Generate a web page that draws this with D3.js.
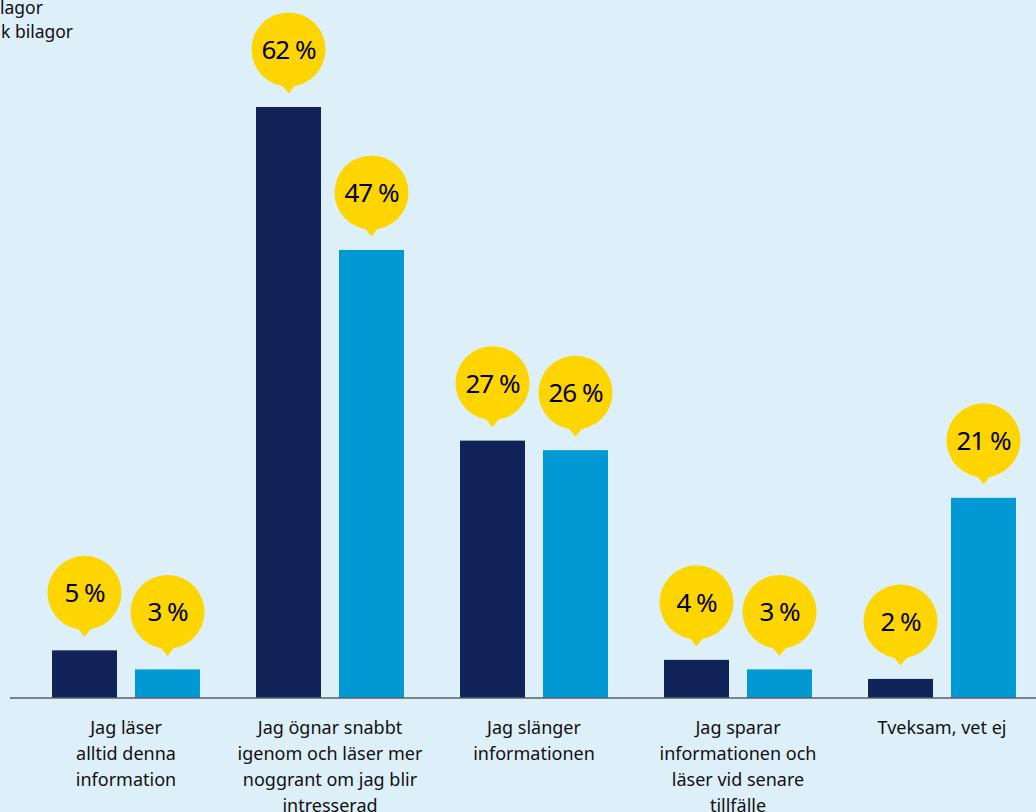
<!DOCTYPE html>
<html><head><meta charset="utf-8">
<script src="https://cdn.jsdelivr.net/npm/d3@7"></script>
<style>
html,body{margin:0;padding:0;background:#ddeff9;}
svg{display:block;}
text{font-family:"Noto Sans","Open Sans",sans-serif;}
</style></head>
<body>
<svg id="chart" width="1036" height="812"></svg>
<script>
const categories = [
  ["Jag läser","alltid denna","information"],
  ["Jag ögnar snabbt","igenom och läser mer","noggrant om jag blir","intresserad"],
  ["Jag slänger","informationen"],
  ["Jag sparar","informationen och","läser vid senare","tillfälle"],
  ["Tveksam, vet ej"]
];
const seriesA = [5, 62, 27, 4, 2];
const seriesB = [3, 47, 26, 3, 21];
// legend texts as far as they are visible (the legend is cut at the left edge)
const legendLabels = ["lagor", "k bilagor"];

const colors = ["#10245a", "#0099d3"];
const W = 1036, H = 812;
const svg = d3.select("#chart");
svg.append("rect").attr("width", W).attr("height", H).attr("fill", "#ddeff9");

const keys = categories.map((c, i) => i);
const x0 = d3.scaleBand().domain(keys).range([52, 1016]).paddingInner(56/204).paddingOuter(0);
const x1 = d3.scaleBand().domain([0, 1]).range([0, x0.bandwidth()]).paddingInner(18/83).paddingOuter(0);
const y = d3.scaleLinear().domain([0, 62]).range([698, 107]);

// legend
svg.append("text").attr("x", 0).attr("y", 14)
  .attr("font-size", 17.5).attr("fill", "#111").text(legendLabels[0]);
svg.append("text").attr("x", 1).attr("y", 38)
  .attr("font-size", 17.5).attr("fill", "#111").text(legendLabels[1]);

const data = [];
keys.forEach(i => {
  data.push({g: i, s: 0, v: seriesA[i]});
  data.push({g: i, s: 1, v: seriesB[i]});
});

// bars
svg.selectAll("rect.bar").data(data).join("rect").attr("class", "bar")
  .attr("x", d => x0(d.g) + x1(d.s))
  .attr("y", d => y(d.v))
  .attr("width", x1.bandwidth())
  .attr("height", d => y(0) - y(d.v))
  .attr("fill", d => colors[d.s]);

// axis baseline
svg.append("line").attr("x1", 10).attr("x2", W).attr("y1", 698).attr("y2", 698)
  .attr("stroke", "#5a5f66").attr("stroke-width", 1.6);

// bubbles
const r = 37;
const bub = svg.selectAll("g.bub").data(data).join("g").attr("class", "bub")
  .attr("transform", d => `translate(${x0(d.g) + x1(d.s) + x1.bandwidth()/2},${y(d.v) - 57.5})`);
bub.append("circle").attr("r", r).attr("fill", "#ffd500");
bub.append("path").attr("d", `M-8,${r-3} L0,${r+7} L8,${r-3} Z`).attr("fill", "#ffd500");
bub.append("text").attr("text-anchor", "middle").attr("y", 9.5)
  .attr("font-size", 26).attr("fill", "#000").attr("letter-spacing", -1)
  .text(d => d.v + " %");

// category labels
const lab = svg.selectAll("text.cat").data(keys).join("text").attr("class", "cat")
  .attr("text-anchor", "middle").attr("font-size", 18).attr("fill", "#111");
lab.each(function(i) {
  const t = d3.select(this);
  categories[i].forEach((line, k) => {
    t.append("tspan").attr("x", x0(i) + x0.bandwidth()/2).attr("y", 734 + k*26).text(line);
  });
});
</script>
</body></html>
